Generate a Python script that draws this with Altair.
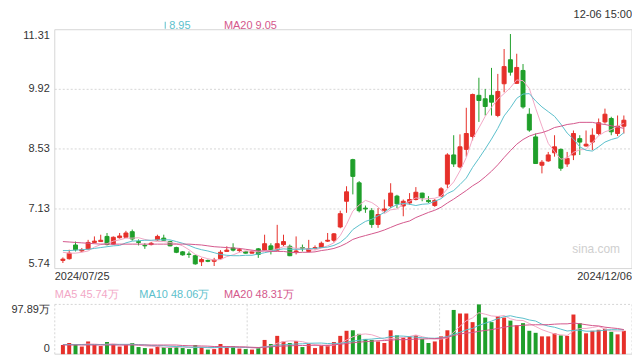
import altair as alt
import pandas as pd

# ---------------- data ----------------
opens = [5.93, 5.97, 6.29, 6.15, 6.20, 6.35, 6.37, 6.49, 6.31, 6.46,
         6.47, 6.60, 6.37, 6.28, 6.30, 6.41, 6.45, 6.37, 6.23, 6.13,
         6.08, 6.04, 5.90, 5.93, 5.91, 5.97, 6.14, 6.22, 6.16, 6.14,
         6.10, 6.20, 6.17, 6.27, 6.17, 6.30, 6.26, 6.13, 6.23, 6.14,
         6.21, 6.23, 6.38, 6.40, 6.71, 7.31, 8.28, 7.74, 7.15, 7.09,
         6.77, 7.10, 7.20, 7.43, 7.20, 7.27, 7.35, 7.50, 7.33, 7.21,
         7.43, 7.71, 8.39, 8.11, 8.52, 8.82, 9.78, 9.70, 9.78, 9.31,
         10.05, 10.61, 10.06, 10.36, 9.34, 8.81, 8.15, 8.25, 8.44, 8.52,
         8.18, 8.39, 8.77, 8.60, 8.69, 8.89, 9.16, 9.24, 8.89, 9.06]
highs = [6.00, 6.18, 6.37, 6.22, 6.41, 6.49, 6.53, 6.57, 6.49, 6.57,
         6.62, 6.65, 6.42, 6.33, 6.36, 6.53, 6.53, 6.39, 6.25, 6.15,
         6.14, 6.06, 5.99, 5.95, 5.99, 6.17, 6.26, 6.33, 6.22, 6.15,
         6.16, 6.22, 6.53, 6.33, 6.76, 6.53, 6.30, 6.49, 6.30, 6.41,
         6.28, 6.37, 6.57, 6.57, 7.09, 7.66, 8.30, 7.78, 7.21, 7.15,
         7.15, 7.35, 7.73, 7.46, 7.35, 7.50, 7.64, 7.51, 7.43, 7.36,
         7.64, 8.43, 8.85, 8.87, 9.49, 9.82, 10.19, 9.93, 10.42, 10.28,
         10.86, 11.21, 10.75, 10.51, 9.48, 8.89, 8.27, 8.46, 8.85, 8.54,
         8.46, 8.96, 8.85, 8.96, 9.01, 9.24, 9.47, 9.28, 9.31, 9.31]
lows = [5.87, 5.95, 6.14, 6.12, 6.18, 6.33, 6.36, 6.28, 6.30, 6.44,
        6.46, 6.39, 6.28, 6.20, 6.28, 6.39, 6.39, 6.26, 6.10, 6.04,
        5.99, 5.83, 5.80, 5.89, 5.80, 5.95, 6.14, 6.14, 6.12, 6.09,
        6.09, 5.99, 6.15, 6.07, 6.16, 6.26, 6.03, 6.07, 6.14, 6.12,
        6.18, 6.22, 6.36, 6.35, 6.68, 7.04, 7.47, 7.05, 7.04, 6.69,
        6.69, 7.04, 7.15, 7.15, 6.96, 7.23, 7.33, 7.31, 7.27, 7.18,
        7.40, 7.62, 8.11, 8.08, 8.35, 8.73, 9.16, 9.31, 9.31, 9.27,
        9.85, 10.24, 10.05, 9.47, 8.93, 8.18, 7.96, 8.23, 8.35, 8.02,
        8.11, 8.27, 8.39, 8.58, 8.50, 8.85, 9.12, 8.85, 8.83, 8.89]
closes = [5.96, 6.10, 6.18, 6.18, 6.35, 6.38, 6.40, 6.30, 6.47, 6.50,
          6.57, 6.43, 6.35, 6.27, 6.33, 6.49, 6.40, 6.27, 6.12, 6.06,
          6.07, 5.85, 5.95, 5.91, 5.94, 6.12, 6.17, 6.17, 6.18, 6.10,
          6.14, 6.07, 6.32, 6.17, 6.32, 6.37, 6.04, 6.15, 6.21, 6.20,
          6.23, 6.33, 6.40, 6.55, 7.02, 7.53, 7.89, 7.09, 7.13, 6.77,
          7.00, 7.13, 7.50, 7.25, 7.31, 7.35, 7.52, 7.39, 7.30, 7.33,
          7.60, 8.39, 8.18, 8.58, 8.89, 9.80, 9.66, 9.52, 9.62, 9.87,
          10.45, 10.32, 10.43, 9.51, 8.97, 8.19, 8.22, 8.39, 8.58, 8.08,
          8.31, 8.89, 8.69, 8.64, 8.85, 9.14, 9.34, 8.93, 9.06, 9.20]
volumes = [18, 22, 20, 15, 25, 18, 16, 24, 20, 15,
           18, 22, 14, 12, 11, 16, 14, 13, 15, 12,
           10, 18, 14, 9, 10, 20, 15, 16, 11, 10,
           9, 14, 28, 20, 36, 25, 22, 26, 14, 20,
           12, 16, 18, 24, 36, 46, 47, 40, 30, 28,
           25, 22, 47, 37, 33, 35, 37, 30, 22, 25,
           35, 47, 87, 80, 80, 63, 97.89, 72, 63, 75,
           72, 66, 57, 61, 46, 42, 35, 35, 41, 37,
           36, 78, 61, 41, 46, 48, 50, 44, 39, 46]
price_ma5 = [6.12, 6.10, 6.10, 6.12,
             6.15, 6.24, 6.30, 6.32, 6.38, 6.41, 6.45, 6.45, 6.46, 6.42,
             6.39, 6.37, 6.37, 6.35, 6.32, 6.27, 6.18, 6.07, 6.01, 5.97,
             5.94, 5.95, 6.02, 6.06, 6.12, 6.15, 6.15, 6.13, 6.16, 6.16,
             6.20, 6.25, 6.24, 6.21, 6.22, 6.19, 6.17, 6.22, 6.27, 6.34,
             6.51, 6.77, 7.08, 7.22, 7.33, 7.28, 7.18, 7.02, 7.11, 7.13,
             7.24, 7.31, 7.39, 7.36, 7.37, 7.38, 7.43, 7.60, 7.76, 8.02,
             8.33, 8.77, 9.02, 9.29, 9.50, 9.69, 9.82, 9.96, 10.14, 10.12,
             9.94, 9.48, 9.06, 8.66, 8.47, 8.29, 8.32, 8.45, 8.51, 8.52,
             8.68, 8.84, 8.93, 8.98, 9.06, 9.13]
price_ma10 = [6.16, 6.16, 6.17, 6.18, 6.19, 6.21, 6.23, 6.25, 6.27,
              6.28, 6.34, 6.38, 6.39, 6.40, 6.40, 6.41, 6.41, 6.41, 6.37,
              6.33, 6.28, 6.22, 6.18, 6.15, 6.11, 6.07, 6.05, 6.04, 6.04,
              6.05, 6.05, 6.08, 6.11, 6.14, 6.18, 6.20, 6.19, 6.19, 6.19,
              6.20, 6.21, 6.23, 6.24, 6.28, 6.35, 6.47, 6.65, 6.75, 6.84,
              6.89, 6.97, 7.05, 7.16, 7.23, 7.26, 7.24, 7.21, 7.24, 7.25,
              7.31, 7.37, 7.49, 7.56, 7.70, 7.85, 8.10, 8.31, 8.53, 8.76,
              9.01, 9.30, 9.49, 9.71, 9.81, 9.82, 9.65, 9.51, 9.40, 9.29,
              9.11, 8.90, 8.76, 8.58, 8.50, 8.48, 8.58, 8.69, 8.75, 8.79,
              8.91]
price_ma20 = [6.37, 6.36, 6.35, 6.34, 6.33, 6.32, 6.31, 6.31, 6.31, 6.31,
              6.31, 6.31, 6.31, 6.31, 6.31, 6.31, 6.31, 6.31, 6.31,
              6.31, 6.31, 6.30, 6.29, 6.27, 6.25, 6.24, 6.23, 6.22, 6.21,
              6.19, 6.17, 6.15, 6.15, 6.14, 6.14, 6.14, 6.12, 6.11, 6.12,
              6.12, 6.13, 6.16, 6.18, 6.21, 6.26, 6.33, 6.42, 6.47, 6.51,
              6.55, 6.59, 6.64, 6.70, 6.76, 6.81, 6.85, 6.93, 6.99, 7.05,
              7.10, 7.17, 7.27, 7.36, 7.46, 7.56, 7.67, 7.76, 7.88, 8.01,
              8.16, 8.33, 8.49, 8.64, 8.75, 8.83, 8.88, 8.91, 8.96, 9.03,
              9.06, 9.10, 9.12, 9.15, 9.15, 9.15, 9.12, 9.10, 9.07, 9.04,
              9.01]
vol_ma5 = [19, 19, 19, 19,
           20, 20, 18.8, 19.6, 20.6, 18.6, 18.6, 19.8, 17.8, 16.2,
           15.4, 15, 13.4, 13.2, 13.8, 14, 12.8, 13.6, 13.8, 12.6,
           12.2, 14.2, 13.6, 14, 14.4, 14.4, 12.2, 12, 14.4, 16.2,
           21.4, 24.6, 26.2, 25.8, 24.6, 21.4, 18.8, 17.6, 16, 18,
           21.2, 28, 34.2, 38.6, 39.8, 38.2, 34, 29, 30.4, 31.8,
           32.8, 34.8, 37.8, 34.4, 31.4, 29.8, 29.8, 31.8, 43.2, 54.8,
           65.8, 71.4, 81.6, 78.6, 75.2, 74.2, 76, 69.6, 66.6, 66.2,
           60.4, 54.4, 48.2, 43.8, 39.8, 38, 36.8, 45.4, 50.6, 50.6,
           52.4, 54.8, 49.2, 45.8, 45.4, 45.7]
vol_ma10 = [19, 19, 19, 19, 19, 19, 19, 19, 19,
            19.3, 19.3, 19.3, 18.7, 18.4, 17, 16.8, 16.6, 15.5, 15,
            14.7, 13.9, 13.5, 13.5, 13.2, 13.1, 13.5, 13.6, 13.9, 13.5,
            13.3, 13.2, 12.8, 14.2, 15.3, 17.9, 18.4, 19.1, 20.1, 20.4,
            21.4, 21.7, 21.9, 20.9, 21.3, 21.3, 23.4, 25.9, 27.3, 28.9,
            29.7, 31, 31.6, 34.5, 35.8, 35.5, 34.4, 33.4, 32.4, 31.6,
            31.3, 32.3, 34.8, 38.8, 43.1, 47.8, 50.6, 56.7, 60.9, 65,
            70, 73.7, 75.6, 72.6, 70.7, 67.3, 65.2, 58.9, 55.2, 53,
            49.2, 45.6, 46.8, 47.2, 45.2, 45.2, 45.8, 47.3, 48.2, 48,
            48.1]
vol_ma20 = [18, 18, 18, 18, 18, 18, 18, 18, 18, 18,
            18, 18, 18, 18, 18, 18, 18, 18, 18,
            17, 16.6, 16.4, 16.1, 15.8, 15.05, 15.15, 15.1, 14.7, 14.25,
            14, 13.55, 13.15, 13.85, 14.25, 15.5, 15.95, 16.35, 17, 16.95,
            17.35, 17.45, 17.35, 17.55, 18.3, 19.6, 20.9, 22.5, 23.7, 24.65,
            25.55, 26.35, 26.75, 27.7, 28.55, 28.4, 28.9, 29.65, 29.85, 30.25,
            30.5, 31.65, 33.2, 36.65, 39.45, 41.65, 42.5, 45.05, 46.65, 48.3,
            50.65, 53, 55.2, 55.7, 56.9, 57.55, 57.9, 57.8, 58.05, 59,
            59.6, 59.65, 61.2, 59.9, 57.95, 56.25, 55.5, 53.1, 51.7, 50.5,
            48.3]

price_ticks = [11.31, 9.92, 8.53, 7.13, 5.74]
vol_max = 97.89
first_date = "2024/07/25"
last_date = "2024/12/06"
stamp = "12-06 15:00"
price_ma10_last = "8.95"
price_ma20_last = "MA20 9.05"
vol_legend = ["MA5 45.74万", "MA10 48.06万", "MA20 48.31万"]
watermark = "sina.com"

# ---------------- styling ----------------
RED = "#e6302a"
GREEN = "#1f9f2a"
C5 = "#f2a7c6"
C10 = "#5cbfcc"
C20 = "#d4588c"
GRID = "#d6d6d6"
TXT = "#333333"
FONT = "Liberation Sans"

W = 580          # plot width
PH = 240         # price panel height
VT, VB = 276, 326  # volume panel top / bottom (plot px)

n = len(closes)
df = pd.DataFrame({
    "i": list(range(n)), "open": opens, "high": highs, "low": lows,
    "close": closes, "vol": volumes,
    "ma5": price_ma5, "ma10": price_ma10, "ma20": price_ma20,
    "vma5": vol_ma5, "vma10": vol_ma10, "vma20": vol_ma20,
})
df["dir"] = ["up" if c >= o else "down" for o, c in zip(opens, closes)]
df["zero"] = 0.0

X = alt.X("i:Q", scale=alt.Scale(domain=[-0.5, n - 0.5], nice=False, zero=False), axis=None)


def PY(f):
    return alt.Y(f, type="quantitative",
                 scale=alt.Scale(domain=[price_ticks[-1], price_ticks[0]], range=[PH, 0], nice=False, zero=False),
                 axis=None)


def VY(f):
    return alt.Y(f, type="quantitative",
                 scale=alt.Scale(domain=[0, vol_max], range=[VB, VT], nice=False, zero=False),
                 axis=None)


dir_scale = alt.Scale(domain=["up", "down"], range=[RED, GREEN])
col = alt.Color("dir:N", scale=dir_scale, legend=None)
stk = alt.Stroke("dir:N", scale=dir_scale, legend=None)

one = pd.DataFrame({"a": [0]})
ptk = pd.DataFrame({"v": price_ticks, "label": [f"{v:.2f}" for v in price_ticks]})
ptk_mid = ptk.iloc[1:-1]
ptk_top = ptk.iloc[:1]
ptk_bot = ptk.iloc[-1:]
vtk_top = pd.DataFrame({"v": [vol_max], "label": [f"{vol_max:.2f}万"]})
vtk_bot = pd.DataFrame({"v": [0.0], "label": ["0"]})

layers = []

# price grid & frame
layers.append(alt.Chart(ptk_mid).mark_rule(color=GRID, strokeDash=[2, 2]).encode(
    y=PY("v"), x=alt.value(0), x2=alt.value(W)))
layers.append(alt.Chart(pd.concat([ptk_top, ptk_bot])).mark_rule(color=GRID).encode(
    y=PY("v"), x=alt.value(0), x2=alt.value(W)))
for px in (0, W):
    layers.append(alt.Chart(one).mark_rule(color=GRID).encode(
        x=alt.value(px), y=alt.value(0), y2=alt.value(PH)))

# volume grid & frame
layers.append(alt.Chart(vtk_top).mark_rule(color=GRID, strokeDash=[2, 2]).encode(
    y=VY("v"), x=alt.value(0), x2=alt.value(W)))
layers.append(alt.Chart(vtk_bot).mark_rule(color=GRID).encode(
    y=VY("v"), x=alt.value(0), x2=alt.value(W)))
for px in (0, W / 3, 2 * W / 3, W):
    layers.append(alt.Chart(one).mark_rule(color=GRID, strokeDash=[2, 2]).encode(
        x=alt.value(px), y=alt.value(VT), y2=alt.value(VB)))

# watermark
layers.append(alt.Chart(one).mark_text(text=watermark, align="right", baseline="middle",
                                        fontSize=12, color="#cfcfcf", font=FONT).encode(
    x=alt.value(W - 12), y=alt.value(220)))

# candles
layers.append(alt.Chart(df).mark_rule(strokeWidth=1).encode(X, PY("low"), alt.Y2("high"), col))
layers.append(alt.Chart(df).mark_bar(size=4, strokeWidth=1).encode(X, PY("open"), alt.Y2("close"), col, stk))

# price MAs
for f, c in (("ma5", C5), ("ma10", C10), ("ma20", C20)):
    layers.append(alt.Chart(df).mark_line(color=c, strokeWidth=1).encode(X, PY(f)))

# volume bars
layers.append(alt.Chart(df).mark_bar(size=4).encode(X, VY("vol"), alt.Y2("zero"), col))
for f, c in (("vma5", C5), ("vma10", C10), ("vma20", C20)):
    layers.append(alt.Chart(df).mark_line(color=c, strokeWidth=1).encode(X, VY(f)))

# axis labels
tx = dict(fontSize=11, color=TXT, font=FONT, align="right", dx=-5)
layers.append(alt.Chart(ptk_top).mark_text(baseline="top", **tx).encode(y=PY("v"), x=alt.value(0), text="label:N"))
layers.append(alt.Chart(ptk_mid).mark_text(baseline="middle", **tx).encode(y=PY("v"), x=alt.value(0), text="label:N"))
layers.append(alt.Chart(ptk_bot).mark_text(baseline="bottom", **tx).encode(y=PY("v"), x=alt.value(0), text="label:N"))
layers.append(alt.Chart(vtk_top).mark_text(baseline="top", **tx).encode(y=VY("v"), x=alt.value(0), text="label:N"))
layers.append(alt.Chart(vtk_bot).mark_text(baseline="bottom", **tx).encode(y=VY("v"), x=alt.value(0), text="label:N"))

# dates, stamp
layers.append(alt.Chart(one).mark_text(text=first_date, align="left", baseline="middle",
                                        fontSize=11, color=TXT, font=FONT).encode(x=alt.value(0), y=alt.value(248)))
layers.append(alt.Chart(one).mark_text(text=last_date, align="right", baseline="middle",
                                        fontSize=11, color=TXT, font=FONT).encode(x=alt.value(W), y=alt.value(248)))
layers.append(alt.Chart(one).mark_text(text=stamp, align="right", baseline="top",
                                        fontSize=11, color=TXT, font=FONT).encode(x=alt.value(W), y=alt.value(-21)))

# price legend (partly hidden in the reference)
layers.append(alt.Chart(one).mark_rule(color=C10).encode(x=alt.value(111), y=alt.value(-8), y2=alt.value(-1)))
layers.append(alt.Chart(one).mark_text(text=price_ma10_last, align="left", baseline="middle",
                                        fontSize=11, color=C10, font=FONT).encode(x=alt.value(115), y=alt.value(-4)))
layers.append(alt.Chart(one).mark_text(text=price_ma20_last, align="left", baseline="middle",
                                        fontSize=11, color=C20, font=FONT).encode(x=alt.value(170), y=alt.value(-4)))

# volume legend
for txt, c, px in zip(vol_legend, (C5, C10, C20), (0, 85, 170)):
    layers.append(alt.Chart(one).mark_text(text=txt, align="left", baseline="middle",
                                            fontSize=11, color=c, font=FONT).encode(x=alt.value(px), y=alt.value(267)))

chart = alt.layer(*layers).resolve_scale(y="independent").properties(
    width=W, height=VB,
    padding={"left": 47, "top": 21, "right": 0, "bottom": 0},
    autosize=alt.AutoSizeParams(type="none"),
    background="white",
).configure_view(stroke=None)

chart.save("out.html", embed_options={"renderer": "svg", "actions": False})
